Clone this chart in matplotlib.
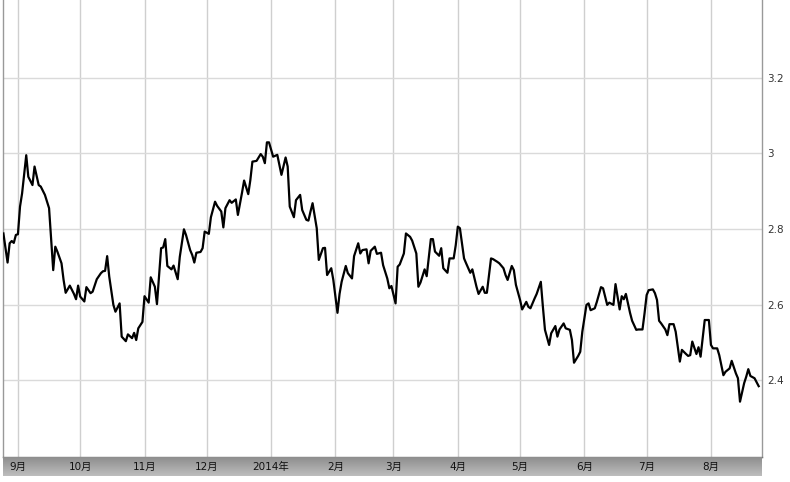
import numpy as np
import pandas as pd
import matplotlib
matplotlib.use("Agg")
import matplotlib.pyplot as plt
import matplotlib.transforms as mtransforms
from matplotlib.colors import LinearSegmentedColormap

plt.rcParams['font.family'] = ['DejaVu Sans', 'Noto Sans CJK SC']

# days after 2013-09-01 and the value
start = pd.Timestamp('2013-09-01')
day_offset = [
    -7, -5, -4, -3, -2, -1, 0, 1, 2, 4, 5, 7, 8, 10, 11, 13, 14, 15, 17, 18,
    19, 21, 22, 23, 25, 27, 28, 29, 30, 32, 33, 35, 36, 38, 40, 41, 42, 43, 44, 46,
    47, 49, 50, 52, 53, 55, 56, 57, 58, 60, 61, 63, 64, 66, 67, 69, 70, 71, 72, 74,
    75, 77, 78, 80, 81, 83, 84, 85, 86, 88, 89, 90, 92, 93, 95, 96, 98, 99, 100, 102,
    103, 105, 106, 108, 109, 111, 112, 113, 115, 117, 118, 119, 120, 121, 123, 125, 126, 127, 129, 130,
    131, 133, 134, 136, 137, 139, 140, 141, 142, 144, 145, 147, 148, 149, 151, 152, 153, 154, 155, 156,
    158, 159, 161, 162, 164, 165, 166, 168, 169, 170, 172, 173, 175, 176, 178, 179, 180, 182, 183, 184,
    186, 187, 189, 190, 192, 193, 194, 196, 197, 199, 200, 201, 203, 204, 205, 207, 208, 210, 211, 212,
    213, 215, 216, 218, 219, 221, 222, 224, 225, 226, 228, 229, 231, 232, 234, 235, 236, 238, 239, 240,
    242, 243, 245, 246, 247, 249, 250, 252, 253, 254, 256, 257, 259, 260, 261, 263, 264, 266, 267, 268,
    270, 271, 272, 274, 275, 276, 278, 279, 281, 282, 284, 285, 287, 288, 290, 291, 292, 293, 295, 296,
    298, 299, 301, 302, 303, 304, 306, 307, 308, 309, 310, 312, 313, 314, 316, 317, 319, 320, 322, 323,
    324, 325, 327, 328, 329, 331, 333, 334, 335, 337, 338, 340, 341, 343, 344, 346, 347, 348, 350, 351,
    352, 353, 355, 357,
]
values = [
    2.788, 2.711, 2.762, 2.768, 2.763, 2.784, 2.786, 2.859, 2.894, 2.995, 2.938, 2.916, 2.965, 2.916, 2.912, 2.890, 2.872, 2.855, 2.691, 2.753,
    2.740, 2.709, 2.665, 2.631, 2.650, 2.628, 2.614, 2.650, 2.621, 2.608, 2.646, 2.630, 2.634, 2.667, 2.683, 2.688, 2.689, 2.728, 2.674, 2.599,
    2.581, 2.603, 2.515, 2.503, 2.521, 2.511, 2.525, 2.506, 2.537, 2.554, 2.622, 2.605, 2.672, 2.647, 2.601, 2.749, 2.751, 2.773, 2.702, 2.693,
    2.703, 2.667, 2.726, 2.799, 2.784, 2.744, 2.731, 2.711, 2.737, 2.739, 2.749, 2.793, 2.787, 2.831, 2.872, 2.861, 2.846, 2.804, 2.855, 2.876,
    2.869, 2.878, 2.837, 2.896, 2.928, 2.892, 2.929, 2.978, 2.980, 2.998, 2.991, 2.974, 3.029, 3.029, 2.991, 2.996, 2.969, 2.943, 2.989, 2.965,
    2.859, 2.831, 2.876, 2.890, 2.850, 2.824, 2.822, 2.846, 2.868, 2.802, 2.718, 2.749, 2.750, 2.678, 2.696, 2.665, 2.621, 2.578, 2.628, 2.660,
    2.702, 2.683, 2.669, 2.728, 2.762, 2.735, 2.744, 2.746, 2.709, 2.742, 2.753, 2.734, 2.737, 2.704, 2.669, 2.643, 2.649, 2.603, 2.700, 2.706,
    2.735, 2.788, 2.779, 2.769, 2.735, 2.647, 2.658, 2.693, 2.675, 2.773, 2.773, 2.740, 2.729, 2.749, 2.696, 2.684, 2.722, 2.722, 2.757, 2.806,
    2.802, 2.722, 2.709, 2.684, 2.693, 2.647, 2.628, 2.647, 2.631, 2.631, 2.722, 2.720, 2.713, 2.709, 2.696, 2.678, 2.665, 2.702, 2.691, 2.652,
    2.612, 2.587, 2.607, 2.594, 2.590, 2.616, 2.628, 2.660, 2.594, 2.533, 2.493, 2.524, 2.543, 2.515, 2.534, 2.550, 2.537, 2.533, 2.506, 2.446,
    2.464, 2.475, 2.528, 2.599, 2.603, 2.585, 2.590, 2.607, 2.646, 2.643, 2.599, 2.605, 2.599, 2.654, 2.587, 2.622, 2.614, 2.628, 2.578, 2.557,
    2.533, 2.534, 2.534, 2.577, 2.625, 2.638, 2.640, 2.630, 2.612, 2.557, 2.550, 2.534, 2.519, 2.548, 2.548, 2.528, 2.449, 2.480, 2.469, 2.464,
    2.466, 2.502, 2.469, 2.487, 2.462, 2.559, 2.559, 2.493, 2.484, 2.484, 2.466, 2.413, 2.422, 2.431, 2.451, 2.418, 2.405, 2.343, 2.392, 2.409,
    2.429, 2.411, 2.405, 2.384,
]
month_starts = ['2013-09-01', '2013-10-01', '2013-11-01', '2013-12-01', '2014-01-01', '2014-02-01',
                '2014-03-01', '2014-04-01', '2014-05-01', '2014-06-01', '2014-07-01', '2014-08-01']
month_labels = ['9月', '10月', '11月', '12月', '2014年', '2月', '3月', '4月', '5月', '6月', '7月', '8月']
y_ticks = [2.4, 2.6, 2.8, 3.0, 3.2]
y_tick_labels = ['2.4', '2.6', '2.8', '3', '3.2']

dates = start + pd.to_timedelta(day_offset, unit='D')
months = pd.to_datetime(month_starts)
x_min = start - pd.Timedelta(days=7.2)
x_max = start + pd.Timedelta(days=358.6)

W, H = 790, 482
fig = plt.figure(figsize=(W / 100, H / 100), dpi=100)
ax = fig.add_axes([3 / W, 1 - 457 / H, 759 / W, 457 / H])
bar = fig.add_axes([3 / W, 1 - 476 / H, 759 / W, 19 / H], sharex=ax)

ax.plot(dates, values, color='black', lw=1.6, solid_joinstyle='round', zorder=3)
ax.set_xlim(x_min, x_max)
ax.set_ylim(2.1966, 3.4056)

for m in months:
    ax.axvline(m, color='#cfcfcf', lw=1, zorder=1)
for v in y_ticks:
    ax.axhline(v, color='#dadada', lw=1, zorder=1)

ax.yaxis.tick_right()
ax.set_yticks(y_ticks)
ax.set_yticklabels(y_tick_labels)
ax.tick_params(axis='y', length=0, pad=4, labelsize=7.5, labelcolor='#333333')
ax.tick_params(axis='x', length=0, labelbottom=False)
ax.spines['top'].set_visible(False)
ax.spines['bottom'].set_color('#777777')
ax.spines['left'].set_color('#999999')
ax.spines['right'].set_color('#999999')
for s in ['left', 'right', 'bottom']:
    ax.spines[s].set_linewidth(1)

# grey gradient band under the plot with the month names
grey = LinearSegmentedColormap.from_list('band', ['#8e8e8e', '#bdbdbd'])
grad = np.linspace(0, 1, 50).reshape(-1, 1)
bar.imshow(grad, cmap=grey, aspect='auto', extent=[0, 1, 0, 1],
           transform=bar.transAxes, zorder=0)
bar.set_ylim(0, 1)
bar.axis('off')
trans = mtransforms.blended_transform_factory(bar.transData, bar.transAxes)
for m, lab in zip(months, month_labels):
    bar.text(m, 0.5, lab, transform=trans, ha='center', va='center',
             fontsize=7.5, color='#111111')

fig.savefig('out.png', dpi=100)
